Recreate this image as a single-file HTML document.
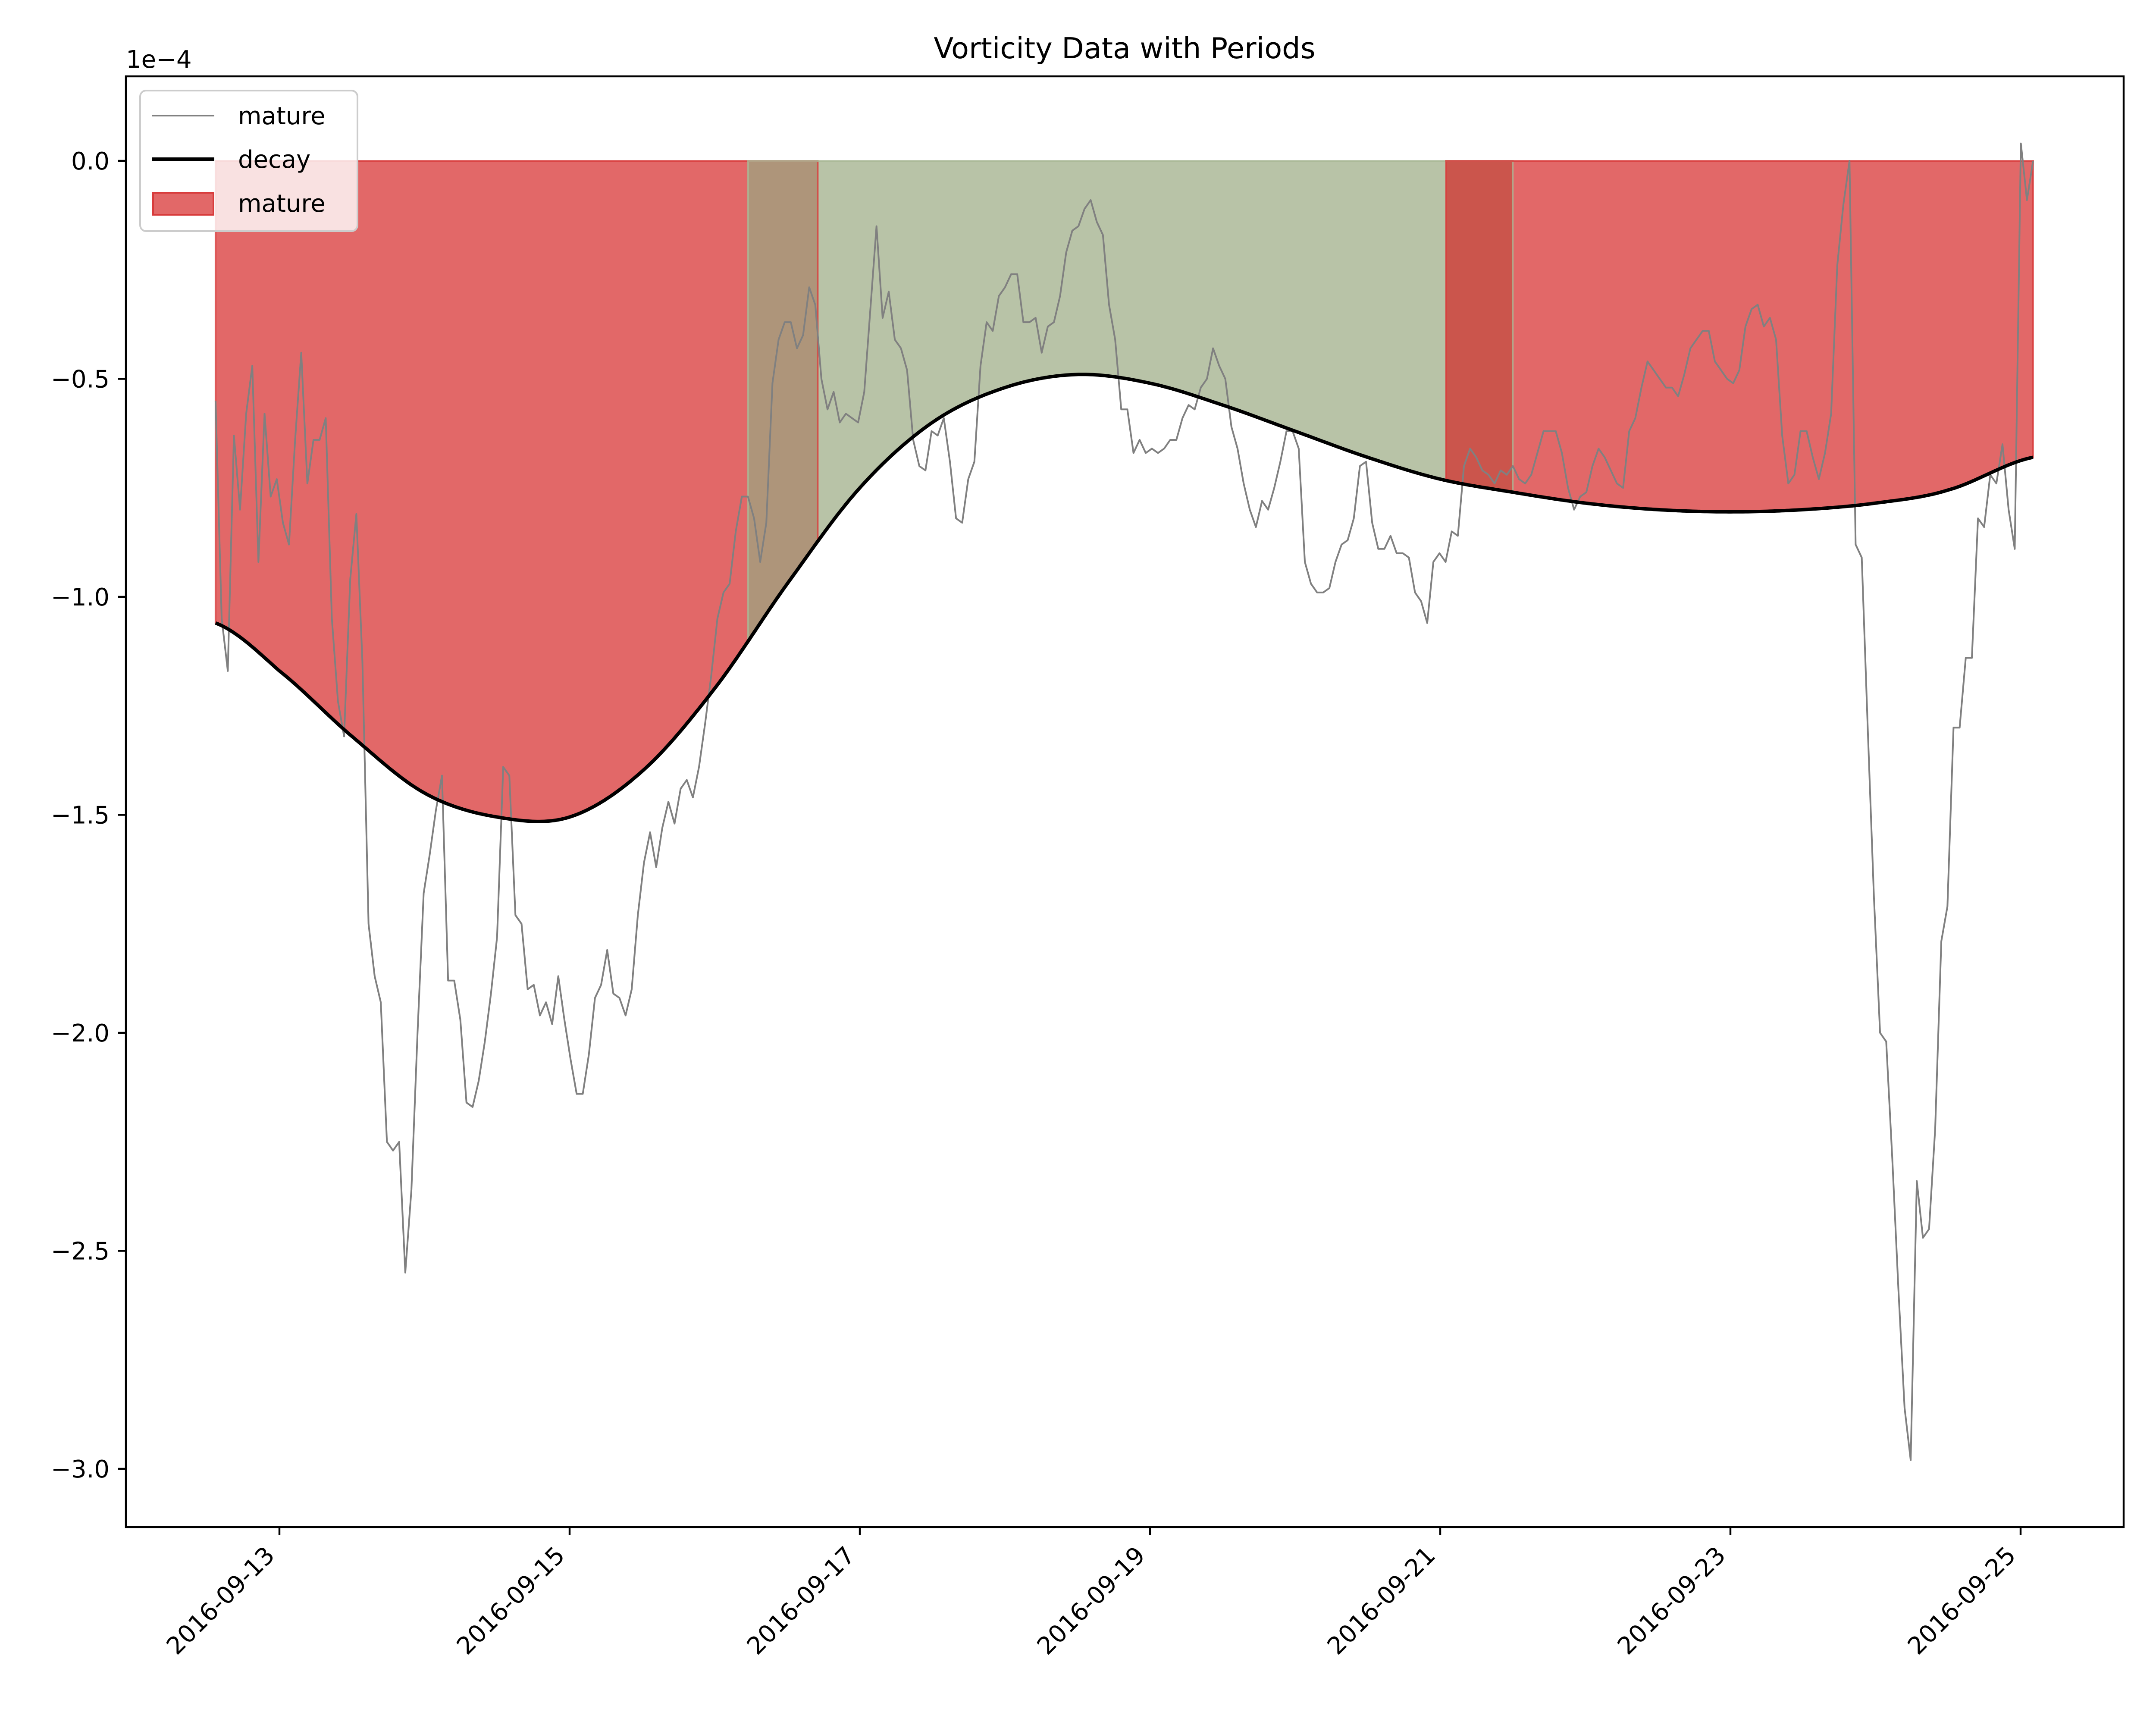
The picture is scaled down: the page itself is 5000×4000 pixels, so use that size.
<!DOCTYPE html>
<html><head><meta charset="utf-8"><style>
html,body{margin:0;padding:0;background:#fff;}
svg{display:block;font-family:"DejaVu Sans","Liberation Sans",sans-serif;}
</style></head><body>
<svg id="chart" width="5000" height="4000" viewBox="0 0 5000 4000" xmlns="http://www.w3.org/2000/svg">
<rect x="0" y="0" width="5000" height="4000" fill="#fff"/>
<g id="fills"></g>
<g id="series"></g>
<g id="axes"></g>
<text x="2608" y="135" font-size="67" text-anchor="middle">Vorticity Data with Periods</text>
<text x="292" y="157" font-size="56">1e−4</text>
<g>
  <rect x="325" y="210" width="504" height="326" rx="14" fill="#fff" fill-opacity="0.8" stroke="#cccccc" stroke-width="4"/>
  <line x1="353" y1="268" x2="497" y2="268" stroke="#808080" stroke-width="4"/>
  <text x="552" y="288" font-size="56">mature</text>
  <line x1="353" y1="369" x2="497" y2="369" stroke="#000" stroke-width="8"/>
  <text x="552" y="389" font-size="56">decay</text>
  <rect x="355" y="447" width="140" height="51" fill="#e26868" stroke="#d83c3c" stroke-width="4"/>
  <text x="552" y="491" font-size="56">mature</text>
</g>
</svg>
<script>
// ---- data ----
const seriesStartDay = 12.56;
const seriesEndDay = 25.086;
const vorticity = [-0.55,-1.05,-1.17,-0.63,-0.80,-0.58,-0.47,-0.92,-0.58,-0.77,-0.73,-0.83,-0.88,-0.64,-0.44,-0.74,-0.64,-0.64,-0.59,-1.05,-1.24,-1.32,-0.96,-0.81,-1.15,-1.75,-1.87,-1.93,-2.25,-2.27,-2.25,-2.55,-2.36,-2.0,-1.68,-1.59,-1.49,-1.41,-1.88,-1.88,-1.97,-2.16,-2.17,-2.11,-2.02,-1.91,-1.78,-1.39,-1.41,-1.73,-1.75,-1.90,-1.89,-1.96,-1.93,-1.98,-1.87,-1.97,-2.06,-2.14,-2.14,-2.05,-1.92,-1.89,-1.81,-1.91,-1.92,-1.96,-1.90,-1.73,-1.61,-1.54,-1.62,-1.53,-1.47,-1.52,-1.44,-1.42,-1.46,-1.39,-1.29,-1.18,-1.05,-0.99,-0.97,-0.85,-0.77,-0.77,-0.82,-0.92,-0.83,-0.51,-0.41,-0.37,-0.37,-0.43,-0.40,-0.29,-0.33,-0.50,-0.57,-0.53,-0.60,-0.58,-0.59,-0.60,-0.53,-0.34,-0.15,-0.36,-0.30,-0.41,-0.43,-0.48,-0.64,-0.70,-0.71,-0.62,-0.63,-0.59,-0.69,-0.82,-0.83,-0.73,-0.69,-0.47,-0.37,-0.39,-0.31,-0.29,-0.26,-0.26,-0.37,-0.37,-0.36,-0.44,-0.38,-0.37,-0.31,-0.21,-0.16,-0.15,-0.11,-0.09,-0.14,-0.17,-0.33,-0.41,-0.57,-0.57,-0.67,-0.64,-0.67,-0.66,-0.67,-0.66,-0.64,-0.64,-0.59,-0.56,-0.57,-0.52,-0.50,-0.43,-0.47,-0.50,-0.61,-0.66,-0.74,-0.80,-0.84,-0.78,-0.80,-0.75,-0.69,-0.62,-0.62,-0.66,-0.92,-0.97,-0.99,-0.99,-0.98,-0.92,-0.88,-0.87,-0.82,-0.70,-0.69,-0.83,-0.89,-0.89,-0.86,-0.90,-0.90,-0.91,-0.99,-1.01,-1.06,-0.92,-0.90,-0.92,-0.85,-0.86,-0.70,-0.66,-0.68,-0.71,-0.72,-0.74,-0.71,-0.72,-0.70,-0.73,-0.74,-0.72,-0.67,-0.62,-0.62,-0.62,-0.67,-0.75,-0.80,-0.77,-0.76,-0.70,-0.66,-0.68,-0.71,-0.74,-0.75,-0.62,-0.59,-0.52,-0.46,-0.48,-0.50,-0.52,-0.52,-0.54,-0.49,-0.43,-0.41,-0.39,-0.39,-0.46,-0.48,-0.50,-0.51,-0.48,-0.38,-0.34,-0.33,-0.38,-0.36,-0.41,-0.63,-0.74,-0.72,-0.62,-0.62,-0.68,-0.73,-0.67,-0.58,-0.24,-0.10,0.00,-0.88,-0.91,-1.31,-1.69,-2.00,-2.02,-2.29,-2.59,-2.86,-2.98,-2.34,-2.47,-2.45,-2.22,-1.79,-1.71,-1.30,-1.30,-1.14,-1.14,-0.82,-0.84,-0.72,-0.74,-0.65,-0.80,-0.89,0.04,-0.09,0.00];
const decayDays = [12.56,13.0,13.5,14.0,14.5,15.0,15.5,16.0,16.5,17.0,17.5,18.0,18.5,19.0,19.5,20.0,20.5,21.0,21.5,22.0,22.5,23.0,23.5,24.0,24.5,25.086];
const decayValues = [-1.06,-1.17,-1.32,-1.45,-1.505,-1.505,-1.40,-1.21,-0.97,-0.75,-0.60,-0.52,-0.49,-0.51,-0.56,-0.62,-0.68,-0.73,-0.76,-0.785,-0.80,-0.805,-0.80,-0.785,-0.755,-0.68];
const periodNames = ["mature","decay","mature"];
const periodStarts = [12.56,16.23,21.04];
const periodEnds = [16.71,21.5,25.086];
const yTicks = [0.0,-0.5,-1.0,-1.5,-2.0,-2.5,-3.0];
const yTickLabels = ["0.0","−0.5","−1.0","−1.5","−2.0","−2.5","−3.0"];
const xTickDays = [13,15,17,19,21,23,25];
const xTickLabels = ["2016-09-13","2016-09-15","2016-09-17","2016-09-19","2016-09-21","2016-09-23","2016-09-25"];

// ---- axes ----
const AX = {l:292, r:4925, t:177, b:3541};
const xS = d => 648 + (d - 13) * 336.5;
const yS = v => 373 - v * 1011;
const NS = "http://www.w3.org/2000/svg";
function mk(tag, attrs, parent){const e=document.createElementNS(NS,tag);for(const k in attrs)e.setAttribute(k,attrs[k]);parent.appendChild(e);return e;}

function decayAt(d){
  let i=0;while(i<decayDays.length-2 && d>decayDays[i+1])i++;
  const p0=decayValues[Math.max(0,i-1)],p1=decayValues[i],p2=decayValues[i+1],p3=decayValues[Math.min(decayValues.length-1,i+2)];
  const t=Math.max(0,Math.min(1,(d-decayDays[i])/(decayDays[i+1]-decayDays[i])));
  return 0.5*((2*p1)+(-p0+p2)*t+(2*p0-5*p1+4*p2-p3)*t*t+(-p0+3*p1-3*p2+p3)*t*t*t);
}
function curvePts(a,b){const pts=[];const n=Math.max(2,Math.ceil((b-a)*60));for(let k=0;k<=n;k++){const d=a+(b-a)*k/n;pts.push([xS(d),yS(decayAt(d))]);}return pts;}

const fills=document.getElementById('fills');
const bounds=[...new Set(periodStarts.concat(periodEnds))].sort((a,b)=>a-b);
for(let k=0;k<bounds.length-1;k++){
  const a=bounds[k],b=bounds[k+1],m=(a+b)/2;
  const cov=[];periodStarts.forEach((s,i)=>{if(m>s&&m<periodEnds[i])cov.push(i);});
  if(!cov.length)continue;
  let col;
  if(cov.length===1)col=periodNames[cov[0]]==="mature"?"#e26868":"#b8c3a7";
  else col=periodNames[cov[cov.length-1]]==="decay"?"#ae957a":"#cb554c";
  const pts=curvePts(a,b);
  let dstr=`M${xS(a)},${yS(0)} L${xS(b)},${yS(0)} `+pts.slice().reverse().map(p=>`L${p[0].toFixed(1)},${p[1].toFixed(1)}`).join(' ')+' Z';
  const el=mk('path',{d:dstr,fill:col},fills);
  
  
}
periodStarts.forEach((s,i)=>{
  const e=periodEnds[i];const pts=curvePts(s,e);
  const dstr=`M${xS(s)},${yS(0)} L${xS(e)},${yS(0)} `+pts.slice().reverse().map(p=>`L${p[0].toFixed(1)},${p[1].toFixed(1)}`).join(' ')+' Z';
  const el=mk('path',{d:dstr,fill:'none',stroke:periodNames[i]==="mature"?"#d83c3c":"#a9b896","stroke-width":4,"stroke-opacity":0.8},fills);
  
  
});

const series=document.getElementById('series');
const n=vorticity.length;
const step=(seriesEndDay-seriesStartDay)/(n-1);
const vp=vorticity.map((v,i)=>`${xS(seriesStartDay+i*step).toFixed(1)},${yS(v).toFixed(1)}`).join(' ');
const gl=mk('polyline',{points:vp,fill:'none',stroke:'#808080','stroke-width':4,'stroke-linejoin':'round'},series);


const cp=curvePts(decayDays[0],decayDays[decayDays.length-1]).map(p=>p[0].toFixed(1)+','+p[1].toFixed(1)).join(' ');
const bl=mk('polyline',{points:cp,fill:'none',stroke:'#000','stroke-width':8,'stroke-linejoin':'round'},series);



const axes=document.getElementById('axes');
const fr=mk('rect',{x:AX.l,y:AX.t,width:AX.r-AX.l,height:AX.b-AX.t,fill:'none',stroke:'#000','stroke-width':4.4},axes);


yTicks.forEach((v,i)=>{
  const y=yS(v);
  const t=mk('line',{x1:AX.l-19,y1:y,x2:AX.l,y2:y,stroke:'#000','stroke-width':4.4},axes);
  
  
  const tx=mk('text',{x:AX.l-38,y:y+20,'font-size':56,'text-anchor':'end'},axes);
  tx.textContent=yTickLabels[i];
  
  
});
xTickDays.forEach((d,i)=>{
  const x=xS(d);
  const t=mk('line',{x1:x,y1:AX.b,x2:x,y2:AX.b+19,stroke:'#000','stroke-width':4.4},axes);
  
  
  const ex=x-8,ey=3610;
  const tx=mk('text',{x:ex,y:ey,'font-size':56,'text-anchor':'end',transform:`rotate(-45 ${ex} ${ey})`},axes);
  tx.textContent=xTickLabels[i];
  
  
});
</script>
</body></html>
